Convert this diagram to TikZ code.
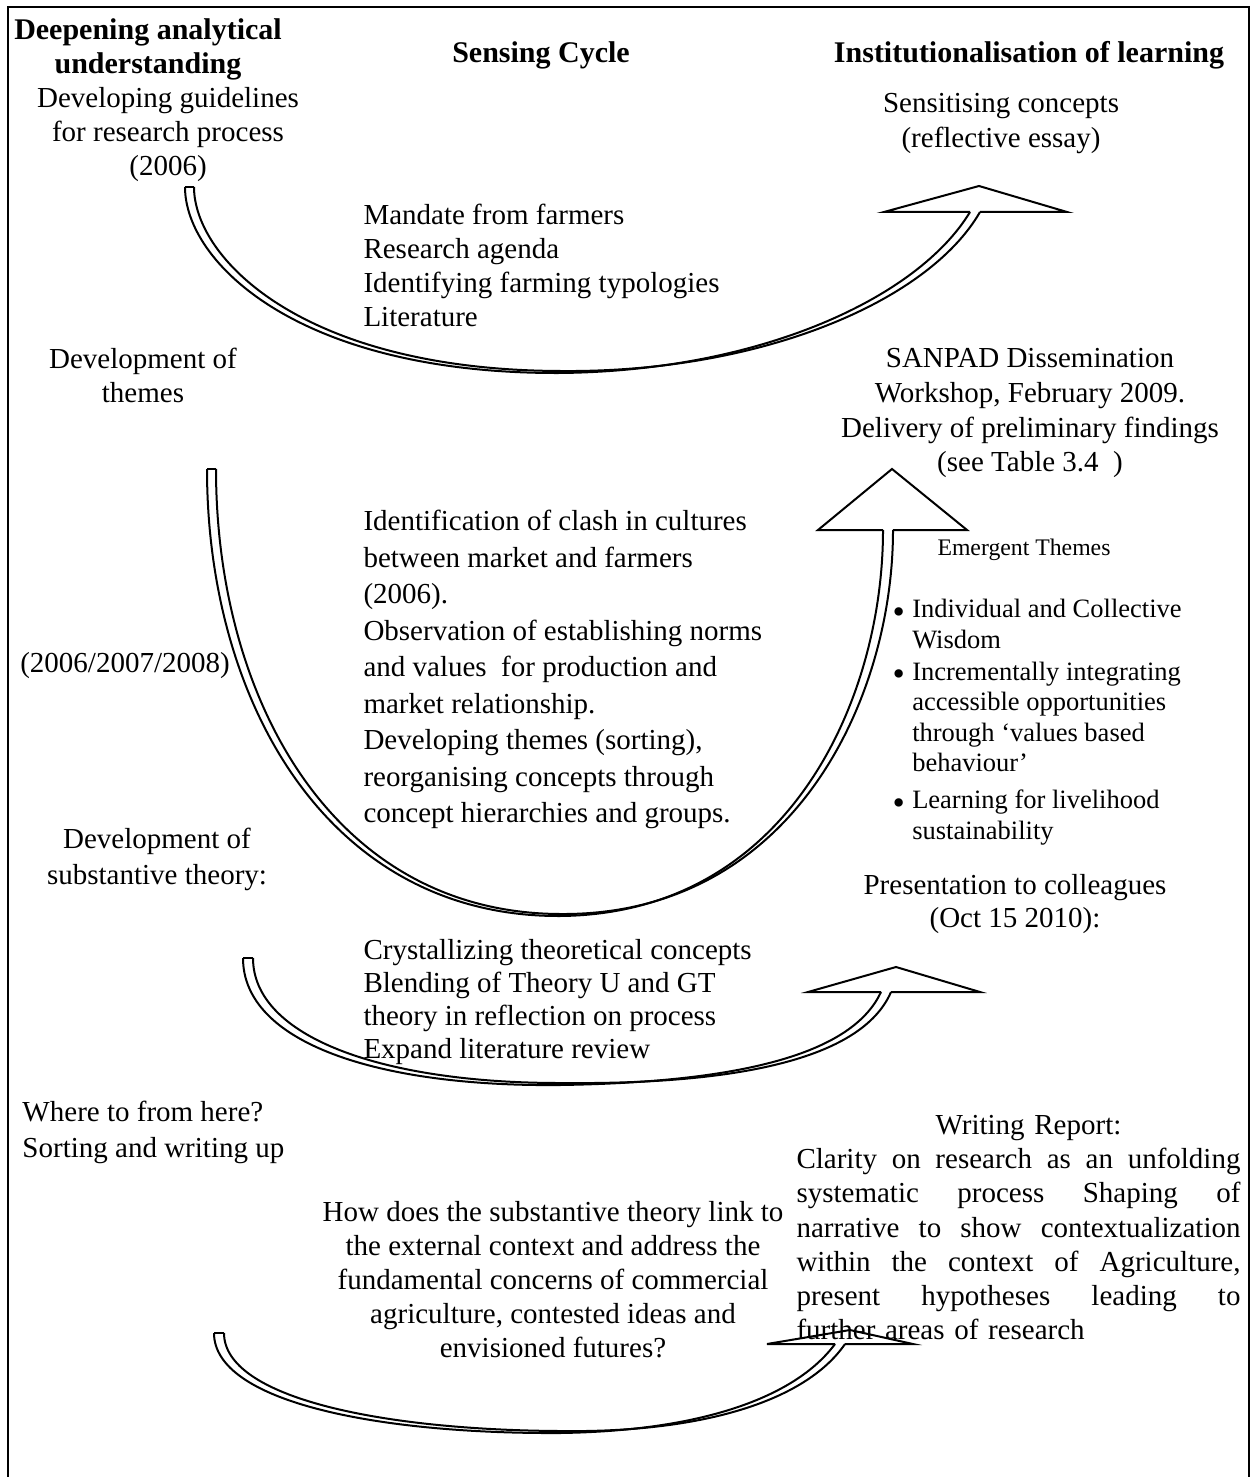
\documentclass[tikz,border=0pt]{standalone}
\usepackage{fontspec}
\setmainfont{Liberation Serif}
\newlength\reportw
\setlength\reportw{177.6pt}
% a fully justified line of the report paragraph
\newcommand\justline[1]{\makebox[\reportw][s]{\spaceskip=0pt\xspaceskip=0pt\relax #1}}
\newcommand\bigbul{\raisebox{-2.2pt}{\fontsize{14}{12.2}\selectfont\textbullet}}
\begin{document}
\begin{tikzpicture}[x=0.4pt,y=-0.4pt,
  rib/.style={line width=0.8pt, line join=round},
  tipfill/.style={fill=white, draw=none},
  tipline/.style={line width=0.8pt, line join=miter},
  txt/.style={inner sep=0pt, align=center, font=\fontsize{11.6}{13.6}\selectfont, execute at begin node=\strut},
  hdr/.style={txt, font=\fontsize{12}{13.6}\selectfont\bfseries},
  lefttxt/.style={txt, align=left}
]
\useasboundingbox (0,0) rectangle (1256,1477);

% open frame
\draw[line width=0.9pt] (8,1477) -- (8,7) -- (1249,7) -- (1249,1477);

% ---------- arrow 1 ----------
\fill[tipfill] (884,212) -- (979,186) -- (1067,212) -- cycle;
\draw[rib] (185,187) .. controls (185,262) and (298,374) .. (560,373)
                     .. controls (760,371) and (918,298) .. (970,212);
\draw[rib] (194,187) .. controls (194,258) and (302,370) .. (560,371)
                     .. controls (760,373) and (928,302) .. (980,212);
\draw[rib] (185,187) -- (194,187);
\draw[tipline] (970,212) -- (884,212) -- (979,186) -- (1067,212) -- (980,212);

% ---------- arrow 2 ----------
\fill[tipfill] (818,530) -- (892,469) -- (967,530) -- cycle;
\draw[rib] (207,469) .. controls (207,702) and (328,917) .. (560,916)
                     .. controls (788,914) and (883,700) .. (883,530);
\draw[rib] (216,469) .. controls (216,698) and (332,913) .. (560,914)
                     .. controls (792,916) and (893,700) .. (893,530);
\draw[rib] (207,469) -- (216,469);
\draw[tipline] (883,530) -- (818,530) -- (892,469) -- (967,530) -- (893,530);

% ---------- arrow 3 ----------
\fill[tipfill] (808,992) -- (896,967) -- (980,992) -- cycle;
\draw[rib] (243,958) .. controls (243,1043) and (378,1087) .. (560,1085)
                     .. controls (760,1082) and (855,1048) .. (881,992);
\draw[rib] (253,958) .. controls (253,1037) and (382,1083) .. (560,1083)
                     .. controls (760,1085) and (865,1052) .. (891,992);
\draw[rib] (243,958) -- (253,958);
\draw[tipline] (881,992) -- (808,992) -- (896,967) -- (980,992) -- (891,992);

% ---------- arrow 4 ----------
\fill[tipfill] (767,1344) -- (850,1330) -- (913,1344) -- cycle;
\draw[rib] (214,1333) .. controls (214,1402) and (378,1434) .. (560,1433)
                      .. controls (700,1431) and (795,1398) .. (835,1344);
\draw[rib] (224,1333) .. controls (224,1398) and (382,1430) .. (560,1431)
                      .. controls (700,1433) and (805,1402) .. (845,1344);
\draw[rib] (214,1333) -- (224,1333);
\draw[tipline] (835,1344) -- (767,1344) -- (850,1330) -- (913,1344) -- (845,1344);

% ---------- column headings ----------
\node[hdr, anchor=north] (hleft) at (148,18) {Deepening analytical\\understanding};
\node[hdr, anchor=north] (hmid) at (541,38) {Sensing Cycle};
\node[hdr, anchor=north] (hright) at (1029,38) {Institutionalisation of learning};

% ---------- left column ----------
\node[txt, anchor=north] (guide) at (168,87) {Developing guidelines\\for research process\\(2006)};
\node[txt, anchor=north] (themes) at (143,348) {Development of\\themes};
\node[txt, anchor=north] (years) at (125,648) {(2006/2007/2008)};
\node[txt, anchor=north, font=\fontsize{11.6}{14.4}\selectfont] (subst) at (157,828) {Development of\\substantive theory:};
\node[lefttxt, anchor=north west, font=\fontsize{11.6}{14.4}\selectfont] (where) at (22,1101) {Where to from here?\\Sorting and writing up};

% ---------- middle column ----------
\node[lefttxt, anchor=north west] (mandate) at (363,204)
  {Mandate from farmers\\Research agenda\\Identifying farming typologies\\Literature};
\node[lefttxt, anchor=north west, font=\fontsize{11.6}{14.6}\selectfont] (clash) at (363,510)
  {Identification of clash in cultures\\between market and farmers\\(2006).\\Observation of establishing norms\\and values\ \ for production and\\market relationship.\\Developing themes (sorting),\\reorganising concepts through\\concept hierarchies and groups.};
\node[lefttxt, anchor=north west, font=\fontsize{11.6}{13.2}\selectfont] (crystal) at (363,939)
  {Crystallizing theoretical concepts\\Blending of Theory U and GT\\theory in reflection on process\\Expand literature review};
\node[txt, anchor=north] (howdoes) at (553,1201)
  {How does the substantive theory link to\\the external context and address the\\fundamental concerns of commercial\\agriculture, contested ideas and\\envisioned futures?};

% ---------- right column ----------
\node[txt, anchor=north, font=\fontsize{11.6}{14}\selectfont] (sensit) at (1001,93) {Sensitising concepts\\(reflective essay)};
\node[txt, anchor=north, font=\fontsize{11.6}{13.9}\selectfont] (sanpad) at (1030,348)
  {SANPAD Dissemination\\Workshop, February 2009.\\Delivery of preliminary findings\\(see Table 3.4\ \ )};
\node[txt, anchor=north, font=\fontsize{9.5}{11}\selectfont] (emerg) at (1024,536) {Emergent Themes};
\node[inner sep=0pt, anchor=north west, font=\fontsize{10.6}{12.2}\selectfont] (bul) at (892,596)
  {\renewcommand\arraystretch{1}%
   \begin{tabular}{@{}l@{\hspace{3pt}}l@{}}
   \bigbul & Individual and Collective\\
   & Wisdom\\[0.6pt]
   \bigbul & Incrementally integrating\\
   & accessible opportunities\\
   & through ‘values based\\
   & behaviour’\\[2.6pt]
   \bigbul & Learning for livelihood\\
   & sustainability
   \end{tabular}};
\node[txt, anchor=north, font=\fontsize{11.6}{13.2}\selectfont] (present) at (1015,874) {Presentation to colleagues\\(Oct 15 2010):};
\node[lefttxt, anchor=north west, text width=\reportw, font=\fontsize{11.6}{13.7}\selectfont] (report) at (796,1110)
  {\makebox[\reportw]{\hspace{8pt}Writing Report:}\\
   \justline{Clarity on research as an unfolding}\\
   \justline{systematic process Shaping of}\\
   \justline{narrative to show contextualization}\\
   \justline{within the context of Agriculture,}\\
   \justline{present hypotheses leading to}\\
   further areas of research};
\end{tikzpicture}
\end{document}
